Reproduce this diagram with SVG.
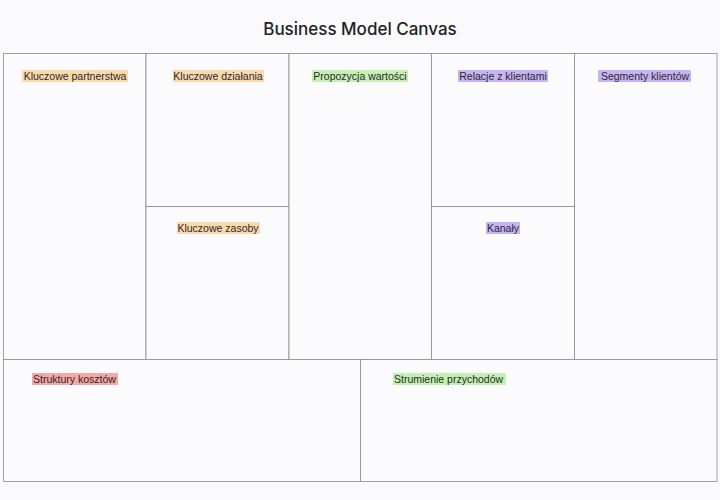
<svg xmlns="http://www.w3.org/2000/svg" width="720" height="500" viewBox="0 0 720 500">
<style>
.cell{fill:#fbfbfd;stroke:#8c8c8c;stroke-width:0.8}
.lbl{font-family:"Liberation Sans",Arial,sans-serif;font-size:10.5px;fill:#2a2a2a}
.c{text-anchor:middle}
.title{font-family:Inter,"Liberation Sans",Arial,sans-serif;font-size:17px;font-weight:500;fill:#222;text-anchor:middle}
.or{fill:#fcd8ad}
.gr{fill:#c4f0b3}
.pu{fill:#c8b3f6}
.rd{fill:#f5a8a6}
</style>
<rect width="720" height="500" fill="#fafafc"/>
<text class="title" x="360" y="35">Business Model Canvas</text>
<g id="partners">
<rect class="cell" x="3.5" y="53.5" width="142.5" height="306"/>
<rect class="or" x="22" y="70" width="106" height="12"/>
<text class="lbl c" x="75" y="80">Kluczowe partnerstwa</text>
</g>
<g id="activities">
<rect class="cell" x="146" y="53.5" width="143" height="153"/>
<rect class="or" x="173" y="70" width="91" height="12"/>
<text class="lbl c" x="218" y="80">Kluczowe działania</text>
</g>
<g id="resources">
<rect class="cell" x="146" y="206.5" width="143" height="153"/>
<rect class="or" x="177" y="222" width="83" height="12"/>
<text class="lbl c" x="218" y="232">Kluczowe zasoby</text>
</g>
<g id="value">
<rect class="cell" x="289" y="53.5" width="142.5" height="306"/>
<rect class="gr" x="312" y="70" width="96" height="12"/>
<text class="lbl c" x="360" y="80">Propozycja wartości</text>
</g>
<g id="relations">
<rect class="cell" x="431.5" y="53.5" width="143" height="153"/>
<rect class="pu" x="458" y="70" width="90" height="12"/>
<text class="lbl c" x="503" y="80">Relacje z klientami</text>
</g>
<g id="channels">
<rect class="cell" x="431.5" y="206.5" width="143" height="153"/>
<rect class="pu" x="486" y="222" width="34" height="12"/>
<text class="lbl c" x="503" y="232">Kanały</text>
</g>
<g id="segments">
<rect class="cell" x="574.5" y="53.5" width="142.5" height="306"/>
<rect class="pu" x="598" y="70" width="93" height="12"/>
<text class="lbl c" x="645" y="80">Segmenty klientów</text>
</g>
<g id="costs">
<rect class="cell" x="3.5" y="359.5" width="357" height="122"/>
<rect class="rd" x="32" y="373" width="86" height="12"/>
<text class="lbl" x="33" y="383">Struktury kosztów</text>
</g>
<g id="revenue">
<rect class="cell" x="360.5" y="359.5" width="356.5" height="122"/>
<rect class="gr" x="393" y="373" width="113" height="12"/>
<text class="lbl" x="394" y="383">Strumienie przychodów</text>
</g>
<g id="connectors"/>
</svg>
